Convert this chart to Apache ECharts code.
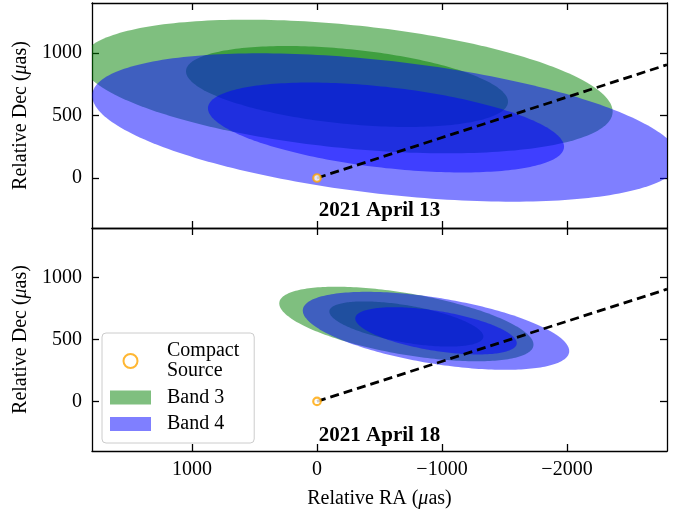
<!DOCTYPE html>
<html><head><meta charset="utf-8">
<script src="https://cdn.jsdelivr.net/npm/echarts@6/dist/echarts.min.js"></script>
<style>html,body{margin:0;padding:0;background:#fff}#c{width:683px;height:510px}</style>
</head><body><div id="c"></div>
<script>
// ---- data ----
const xTicks = [1000, 0, -1000, -2000];
const yTicks = [0, 500, 1000];
const panelLabels = ['2021 April 13', '2021 April 18'];
const bandNames = ['Band 3', 'Band 4'];
const sourceName = 'Compact\nSource';
// inner-contour ellipse per panel: [centerRA, centerDec, semiMajor, semiMinor, angleDeg]
const band3Ellipses = [[-240, 732, 1294, 299, 5.7], [-715, 625, 625, 150, 9.85]];
const band4Ellipses = [[-552, 404, 1433, 323, 6.5], [-952, 570, 654, 161, 9.3]];
const contourScales = [1.65, 1.0]; // outer, inner contour
const jetLine = [[0, 0], [-2800, 906]];
const compactSource = [[0, 0]];

// ---- styles ----
const FONT = '"Liberation Serif", "Times New Roman", serif';
const bandColors = ['rgba(0,128,0,0.5)', 'rgba(0,0,255,0.5)'];
const fmt = v => (v < 0 ? '\u2212' + Math.abs(v) : String(v));

function ellipseRender(params, api) {
  const cx = api.value(0), cy = api.value(1), s = api.value(5);
  const a = api.value(2) * s, b = api.value(3) * s, t = api.value(4) * Math.PI / 180;
  const pts = [];
  for (let i = 0; i < 240; i++) {
    const u = i / 240 * 2 * Math.PI;
    const x = cx + a * Math.cos(t) * Math.cos(u) - b * Math.sin(t) * Math.sin(u);
    const y = cy + a * Math.sin(t) * Math.cos(u) + b * Math.cos(t) * Math.sin(u);
    pts.push(api.coord([x, y]));
  }
  const cs = params.coordSys;
  return {
    type: 'polygon', shape: { points: pts },
    style: { fill: api.visual('color') },
    clipPath: { type: 'rect', shape: { x: cs.x, y: cs.y, width: cs.width, height: cs.height } }
  };
}

const grids = [
  { left: 92, right: 16, top: 3, height: 225 },
  { left: 92, right: 16, top: 228, height: 225 }
];

const axisLineStyle = { color: '#000', width: 1.3 };
const nameStyle = { fontFamily: FONT, fontSize: 20, color: '#000', rich: { i: { fontFamily: FONT, fontSize: 20, fontStyle: 'italic', color: '#000' } } };
function xAx(gridIndex, position, showLabel, name) {
  return {
    type: 'value', gridIndex, position, min: -2800, max: 1800, inverse: true,
    axisLine: { show: true, onZero: false, lineStyle: axisLineStyle },
    axisTick: { show: true, inside: true, length: 7, customValues: xTicks, lineStyle: axisLineStyle },
    axisLabel: { show: showLabel, customValues: xTicks, formatter: fmt, fontFamily: FONT, fontSize: 20, color: '#000', margin: 9 },
    splitLine: { show: false },
    name: name || '', nameLocation: 'middle', nameGap: 38, nameTextStyle: nameStyle
  };
}
function yAx(gridIndex, position, showLabel, name) {
  return {
    type: 'value', gridIndex, position, min: -400, max: 1400,
    axisLine: { show: true, onZero: false, lineStyle: axisLineStyle },
    axisTick: { show: true, inside: true, length: 7, customValues: yTicks, lineStyle: axisLineStyle },
    axisLabel: { show: showLabel, customValues: yTicks, formatter: fmt, fontFamily: FONT, fontSize: 20, color: '#000', margin: 10 },
    splitLine: { show: false },
    name: name || '', nameLocation: 'middle', nameGap: 51, nameTextStyle: nameStyle
  };
}

const xAxes = [], yAxes = [], series = [];
const yName = 'Relative Dec ({i|\u03bc}as)';
const xName = 'Relative RA ({i|\u03bc}as)';
for (let p = 0; p < 2; p++) {
  xAxes.push(xAx(p, 'bottom', p === 1, p === 1 ? xName : ''));
  xAxes.push(xAx(p, 'top', false, ''));
  yAxes.push(yAx(p, 'left', true, yName));
  yAxes.push(yAx(p, 'right', false, ''));
  const bands = [band3Ellipses[p], band4Ellipses[p]];
  bands.forEach((e, bi) => {
    contourScales.forEach(s => {
      series.push({
        type: 'custom', name: bandNames[bi], xAxisIndex: 2 * p, yAxisIndex: 2 * p,
        renderItem: ellipseRender, itemStyle: { color: bandColors[bi] },
        data: [[e[0], e[1], e[2], e[3], e[4], s]], z: 2, silent: true
      });
    });
  });
  series.push({
    type: 'line', name: 'jet', xAxisIndex: 2 * p, yAxisIndex: 2 * p, data: jetLine,
    showSymbol: false, symbol: 'none', lineStyle: { color: '#000', width: 2.8, type: [9, 5] }, z: 3, silent: true
  });
  series.push({
    type: 'scatter', name: sourceName, xAxisIndex: 2 * p, yAxisIndex: 2 * p, data: compactSource,
    symbol: 'circle', symbolSize: 7.5, itemStyle: { color: '#fff', borderColor: '#FFA500', borderWidth: 2.2 }, z: 4, silent: true
  });
}

const chart = echarts.init(document.getElementById('c'));
chart.setOption({
  animation: false,
  backgroundColor: '#fff',
  grid: grids,
  xAxis: xAxes,
  yAxis: yAxes,
  series,
  legend: {
    orient: 'vertical', left: 102, top: 333,
    padding: [8, 15, 9, 8], itemGap: 6.5, itemWidth: 41, itemHeight: 14,
    backgroundColor: 'rgba(255,255,255,0.8)', borderColor: '#cccccc', borderWidth: 1, borderRadius: 4,
    selectedMode: false,
    textStyle: { fontFamily: FONT, fontSize: 20, color: '#000', lineHeight: 20, padding: [0, 0, 0, 11] },
    data: [
      { name: sourceName, icon: 'circle', itemStyle: { color: '#fff', borderColor: '#FFA500', borderWidth: 2 } },
      { name: bandNames[0], icon: 'rect', itemStyle: { color: bandColors[0], borderWidth: 0 } },
      { name: bandNames[1], icon: 'rect', itemStyle: { color: bandColors[1], borderWidth: 0 } }
    ]
  },
  graphic: panelLabels.map((t, i) => ({
    type: 'text', x: 379.5, y: i === 0 ? 211 : 436, z: 10,
    style: { text: t, font: 'bold 21px ' + FONT, fill: '#000', textAlign: 'center', textVerticalAlign: 'middle' }
  }))
});
</script></body></html>
